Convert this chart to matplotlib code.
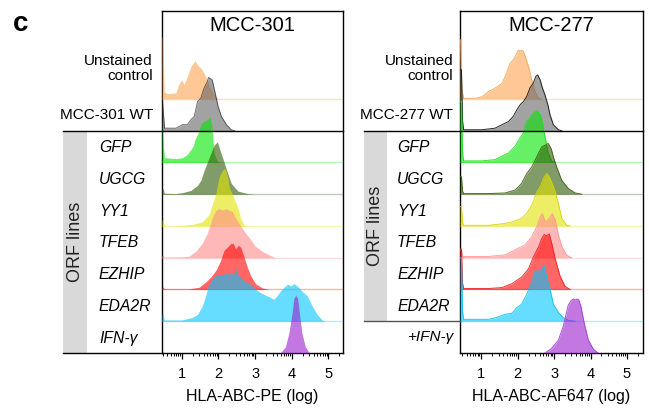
import numpy as np
import matplotlib.pyplot as plt
from matplotlib.patches import Rectangle

plt.rcParams["font.family"] = ["Liberation Sans", "DejaVu Sans"]

# -------------------------
# Histogram outlines
# x = log10 intensity, y = height in row units
# -------------------------

# MCC-301
u301_x = [0.46, 0.47, 0.50, 0.52, 0.56, 0.70, 0.84, 0.93, 1.00, 1.06, 1.15, 1.25, 1.36, 1.43, 1.52, 1.61, 1.70, 1.79, 1.88, 1.97, 2.10]
u301_y = [1.96, 1.96, 1.20, 0.25, 0.18, 0.17, 0.20, 0.49, 0.60, 0.45, 0.70, 1.02, 1.21, 1.07, 0.97, 0.81, 0.60, 0.35, 0.12, 0.02, 0.00]

wt301_x = [0.46, 0.47, 0.50, 0.53, 0.70, 0.84, 1.02, 1.15, 1.25, 1.34, 1.43, 1.52, 1.61, 1.70, 1.73, 1.83, 1.90, 1.99, 2.08, 2.22, 2.35, 2.44]
wt301_y = [0.98, 0.98, 0.50, 0.08, 0.08, 0.08, 0.19, 0.19, 0.35, 0.45, 0.92, 1.03, 1.35, 1.55, 1.68, 1.60, 1.24, 0.77, 0.45, 0.19, 0.03, 0.00]

gfp301_x = [0.46, 0.47, 0.50, 0.53, 0.84, 1.02, 1.15, 1.25, 1.31, 1.36, 1.43, 1.52, 1.61, 1.70, 1.77, 1.82, 1.85, 1.88, 1.97, 2.05]
gfp301_y = [1.04, 1.04, 0.50, 0.15, 0.12, 0.15, 0.25, 0.41, 0.51, 0.72, 0.88, 1.20, 1.30, 1.35, 1.44, 1.14, 0.72, 0.30, 0.04, 0.00]

ugcg301_x = [0.46, 0.49, 0.52, 0.84, 1.02, 1.25, 1.43, 1.52, 1.61, 1.70, 1.79, 1.88, 1.97, 2.06, 2.15, 2.24, 2.35, 2.53, 2.80, 2.99]
ugcg301_y = [0.18, 0.18, 0.03, 0.02, 0.05, 0.12, 0.28, 0.44, 0.75, 1.02, 1.28, 1.54, 1.65, 1.33, 1.02, 0.70, 0.34, 0.10, 0.02, 0.00]

yy1_301_x = [0.46, 0.49, 0.52, 0.60, 1.00, 1.29, 1.56, 1.74, 1.83, 1.93, 2.02, 2.11, 2.17, 2.24, 2.30, 2.40, 2.52, 2.61, 2.70, 2.80]
yy1_301_y = [0.19, 0.19, 0.02, 0.00, 0.02, 0.05, 0.13, 0.35, 0.66, 1.03, 1.55, 1.75, 1.82, 1.60, 1.20, 0.95, 0.61, 0.24, 0.03, 0.00]

tfeb301_x = [0.46, 0.49, 0.52, 1.00, 1.20, 1.38, 1.56, 1.70, 1.83, 1.93, 2.02, 2.11, 2.20, 2.29, 2.38, 2.47, 2.61, 2.74, 2.88, 3.01, 3.20, 3.38, 3.56]
tfeb301_y = [0.08, 0.08, 0.02, 0.03, 0.05, 0.20, 0.46, 0.78, 1.25, 1.49, 1.55, 1.50, 1.55, 1.49, 1.46, 1.25, 0.99, 0.78, 0.57, 0.36, 0.20, 0.09, 0.00]

ezhip301_x = [0.46, 0.49, 0.52, 1.20, 1.47, 1.65, 1.79, 1.93, 2.06, 2.15, 2.24, 2.33, 2.40, 2.47, 2.54, 2.61, 2.70, 2.79, 2.88, 3.01, 3.20, 3.38]
ezhip301_y = [0.08, 0.08, 0.02, 0.02, 0.07, 0.23, 0.39, 0.60, 0.91, 1.23, 1.33, 1.44, 1.46, 1.28, 1.39, 1.33, 1.02, 0.70, 0.44, 0.18, 0.05, 0.00]

eda2r301_x = [0.46, 0.49, 0.52, 1.00, 1.29, 1.43, 1.56, 1.65, 1.74, 1.88,
              2.02, 2.11, 2.20, 2.29, 2.36, 2.42, 2.47, 2.52, 2.61, 2.70,
              2.83, 2.92, 3.01, 3.15, 3.29, 3.42, 3.51, 3.60, 3.69, 3.78,
              3.89, 3.97, 4.06, 4.15, 4.28, 4.42, 4.56, 4.69, 4.83, 4.92]
eda2r301_y = [0.22, 0.22, 0.04, 0.04, 0.12, 0.22, 0.48, 0.80, 1.17, 1.41,
              1.48, 1.45, 1.53, 1.48, 1.53, 1.48, 1.69, 1.48, 1.38, 1.27,
              1.20, 1.11, 1.01, 0.90, 0.82, 0.75, 0.69, 0.80, 0.95, 1.06,
              1.17, 1.11, 1.19, 1.11, 0.95, 0.80, 0.48, 0.22, 0.04, 0.00]

ifn301_x = [3.69, 3.83, 3.92, 4.01, 4.06, 4.11, 4.16, 4.21, 4.28, 4.37, 4.48]
ifn301_y = [0.00, 0.20, 0.62, 1.25, 1.72, 1.82, 1.72, 1.25, 0.62, 0.20, 0.00]

# MCC-277
u277_x = [0.42, 0.44, 0.47, 0.52, 0.84, 1.02, 1.20, 1.38, 1.57, 1.70, 1.79, 1.88, 1.98, 2.02, 2.07, 2.11, 2.16, 2.21, 2.30, 2.39, 2.48, 2.57, 2.66]
u277_y = [1.86, 1.86, 0.30, 0.02, 0.02, 0.07, 0.23, 0.34, 0.49, 0.81, 1.12, 1.23, 1.44, 1.54, 1.50, 1.54, 1.50, 1.33, 1.02, 0.60, 0.23, 0.02, 0.00]

wt277_x = [0.42, 0.46, 0.49, 0.52, 1.02, 1.38, 1.57, 1.75, 1.88, 1.98, 2.07, 2.16, 2.25, 2.34, 2.43, 2.50, 2.55, 2.62, 2.68, 2.75, 2.83, 2.89, 2.98, 3.12, 3.21]
wt277_y = [1.92, 1.92, 0.30, 0.03, 0.03, 0.08, 0.19, 0.29, 0.45, 0.66, 0.82, 0.92, 1.08, 1.35, 1.50, 1.71, 1.76, 1.60, 1.35, 1.13, 0.82, 0.50, 0.19, 0.03, 0.00]

gfp277_x = [0.42, 0.46, 0.49, 0.52, 1.02, 1.38, 1.57, 1.75, 1.93, 2.07, 2.16, 2.25, 2.34, 2.43, 2.53, 2.62, 2.68, 2.75, 2.84, 2.94, 3.03]
gfp277_y = [1.93, 1.93, 0.30, 0.05, 0.05, 0.09, 0.20, 0.30, 0.51, 0.78, 0.93, 1.30, 1.41, 1.56, 1.62, 1.52, 1.25, 0.83, 0.30, 0.04, 0.00]

ugcg277_x = [0.42, 0.46, 0.49, 0.52, 1.20, 1.66, 1.93, 2.11, 2.25, 2.39, 2.48, 2.57, 2.66, 2.75, 2.84, 2.92, 2.98, 3.07, 3.21, 3.39, 3.58, 3.76]
ugcg277_y = [0.55, 0.55, 0.10, 0.02, 0.02, 0.04, 0.13, 0.34, 0.65, 0.86, 1.07, 1.28, 1.49, 1.54, 1.60, 1.44, 1.18, 0.86, 0.44, 0.18, 0.04, 0.00]

yy1_277_x = [0.42, 0.46, 0.49, 0.52, 1.20, 1.66, 1.88, 2.11, 2.25, 2.39, 2.48, 2.53, 2.62, 2.71, 2.80, 2.89, 2.98, 3.03, 3.12, 3.21, 3.35, 3.44]
yy1_277_y = [0.61, 0.61, 0.10, 0.02, 0.02, 0.08, 0.14, 0.24, 0.40, 0.66, 0.92, 1.08, 1.24, 1.50, 1.66, 1.50, 1.24, 1.08, 0.71, 0.24, 0.02, 0.00]

tfeb277_x = [0.42, 0.46, 0.49, 0.52, 1.20, 1.66, 1.93, 2.21, 2.39, 2.53, 2.62, 2.68, 2.75, 2.84, 2.95, 3.03, 3.12, 3.21, 3.35, 3.48]
tfeb277_y = [0.25, 0.25, 0.05, 0.04, 0.04, 0.09, 0.25, 0.41, 0.67, 0.99, 1.30, 1.39, 1.15, 1.20, 1.39, 1.20, 0.72, 0.36, 0.08, 0.00]

ezhip277_x = [0.42, 0.46, 0.49, 0.52, 1.20, 1.57, 1.84, 2.11, 2.30, 2.43, 2.57, 2.66, 2.73, 2.80, 2.87, 2.94, 3.03, 3.16, 3.30, 3.44]
ezhip277_y = [1.28, 1.28, 0.20, 0.03, 0.03, 0.06, 0.18, 0.39, 0.65, 1.02, 1.33, 1.60, 1.73, 1.70, 1.75, 1.44, 0.97, 0.44, 0.10, 0.00]

eda2r277_x = [0.42, 0.46, 0.49, 0.52, 1.20, 1.43, 1.66, 1.84, 1.98, 2.11, 2.25, 2.37, 2.46, 2.55, 2.62, 2.68, 2.73, 2.80, 2.89, 2.98, 3.12, 3.25, 3.39, 3.58]
eda2r277_y = [2.00, 2.00, 0.30, 0.06, 0.06, 0.12, 0.22, 0.25, 0.43, 0.54, 0.85, 1.17, 1.53, 1.60, 1.55, 1.69, 1.74, 1.38, 1.01, 0.54, 0.27, 0.12, 0.03, 0.00]

ifn277_x = [2.75, 2.94, 3.12, 3.25, 3.39, 3.48, 3.53, 3.58, 3.63, 3.68, 3.74, 3.83, 3.94, 4.08, 4.21]
ifn277_y = [0.00, 0.15, 0.41, 0.83, 1.51, 1.67, 1.70, 1.67, 1.70, 1.67, 1.45, 0.93, 0.41, 0.12, 0.00]

curves_301 = [(u301_x, u301_y), (wt301_x, wt301_y), (gfp301_x, gfp301_y),
              (ugcg301_x, ugcg301_y), (yy1_301_x, yy1_301_y), (tfeb301_x, tfeb301_y),
              (ezhip301_x, ezhip301_y), (eda2r301_x, eda2r301_y), (ifn301_x, ifn301_y)]
curves_277 = [(u277_x, u277_y), (wt277_x, wt277_y), (gfp277_x, gfp277_y),
              (ugcg277_x, ugcg277_y), (yy1_277_x, yy1_277_y), (tfeb277_x, tfeb277_y),
              (ezhip277_x, ezhip277_y), (eda2r277_x, eda2r277_y), (ifn277_x, ifn277_y)]

labels_301 = ["Unstained\ncontrol", "MCC-301 WT", "GFP", "UGCG", "YY1", "TFEB", "EZHIP", "EDA2R", "IFN-\u03b3"]
labels_277 = ["Unstained\ncontrol", "MCC-277 WT", "GFP", "UGCG", "YY1", "TFEB", "EZHIP", "EDA2R", "+IFN-\u03b3"]

fill_colors = ["#fca350", "#646464", "#00e600", "#2e5a05", "#e3e300",
               "#ff8a8a", "#ff0000", "#00c5ff", "#9b1ecd"]
edge_colors = ["#f5a65a", "#111111", "#22dd22", "#3e5e10", "#d6d600",
               "#ff9a9a", "#ee2020", "#10c0f0", "#a040d0"]

# -------------------------
# Figure
# -------------------------

W, H = 649, 418
fig = plt.figure(figsize=(W / 100, H / 100), dpi=100)
ax1 = fig.add_axes([162 / W, 65 / H, 181 / W, 342 / H])
ax2 = fig.add_axes([460 / W, 65 / H, 183 / W, 342 / H])

n_rows = len(labels_301)


def draw_panel(ax, curves, labels, xlim, title, xlabel,
               band_x, orf_rows, right_label_x, orf_label_x, sep_color,
               outlines):
    trans = ax.get_yaxis_transform()
    for i, (x, y) in enumerate(curves):
        base = n_rows - 1 - i
        top = base + np.array(y)
        ax.fill_between(x, base, top, color=fill_colors[i], alpha=0.6,
                        lw=0, zorder=3 + 2 * i)
        if outlines or i == 1:
            ax.plot(x, top, color=edge_colors[i], lw=0.7,
                    alpha=0.9 if outlines else 0.6, zorder=4 + 2 * i)
        if i != 1 and base > 0:
            ax.axhline(base, color=fill_colors[i], alpha=0.3, lw=1.0,
                       zorder=3 + 2 * i)

    # row labels
    for i, lab in enumerate(labels):
        base = n_rows - 1 - i
        if i == 0:
            ax.text(right_label_x, base + 0.95, lab, transform=trans,
                    ha="right", va="center", fontsize=11, linespacing=1.1)
        elif i == 1 or lab.startswith("+"):
            ax.text(right_label_x, base + 0.5, lab, transform=trans,
                    ha="right", va="center", fontsize=11,
                    style="italic" if lab.startswith("+") else "normal")
        else:
            ax.text(orf_label_x, base + 0.47, lab, transform=trans,
                    ha="left", va="center", fontsize=11.3, style="italic")

    # grey "ORF lines" band
    lo, hi = orf_rows
    ax.add_patch(Rectangle((band_x[0], lo), band_x[1] - band_x[0], hi - lo,
                           transform=trans, color="#d9d9d9", lw=0,
                           clip_on=False, zorder=0))
    ax.text((band_x[0] + band_x[1]) / 2, (lo + hi) / 2, "ORF lines",
            transform=trans, rotation=90, ha="center", va="center",
            fontsize=13, color="#222222")
    ax.plot([band_x[0], 1], [hi, hi], transform=trans, color="black",
            lw=1.0, clip_on=False, zorder=30)
    ax.plot([band_x[0], 0], [lo, lo], transform=trans, color=sep_color,
            lw=1.0, clip_on=False, zorder=30)

    ax.text(0.5, 0.957, title, transform=ax.transAxes, ha="center",
            va="center", fontsize=14.5)

    ax.set_xlim(*xlim)
    ax.set_ylim(0, 10.77)
    ax.set_yticks([])
    ax.set_xticks([1, 2, 3, 4, 5])
    minor = [d + np.log10(k) for d in range(0, 6) for k in range(2, 10)]
    ax.set_xticks([m for m in minor if xlim[0] < m < xlim[1]], minor=True)
    ax.tick_params(axis="x", which="major", direction="out", length=4,
                   width=0.9, labelsize=10.5, pad=6)
    ax.tick_params(axis="x", which="minor", direction="out", length=2,
                   width=0.7)
    for s in ax.spines.values():
        s.set_linewidth(1.0)
    ax.set_xlabel(xlabel, fontsize=11.5, labelpad=6)


draw_panel(ax1, curves_301, labels_301, (0.46, 5.40), "MCC-301",
           "HLA-ABC-PE (log)", (-0.547, -0.414), (0, 7),
           -0.05, -0.348, "black", False)
draw_panel(ax2, curves_277, labels_277, (0.42, 5.44), "MCC-277",
           "HLA-ABC-AF647 (log)", (-0.525, -0.399), (1, 7),
           -0.038, -0.344, "#555555", True)

fig.text(13 / W, 1 - 31 / H, "c", fontsize=20, fontweight="bold",
         va="baseline", ha="left")

fig.savefig("out.png", dpi=100)
